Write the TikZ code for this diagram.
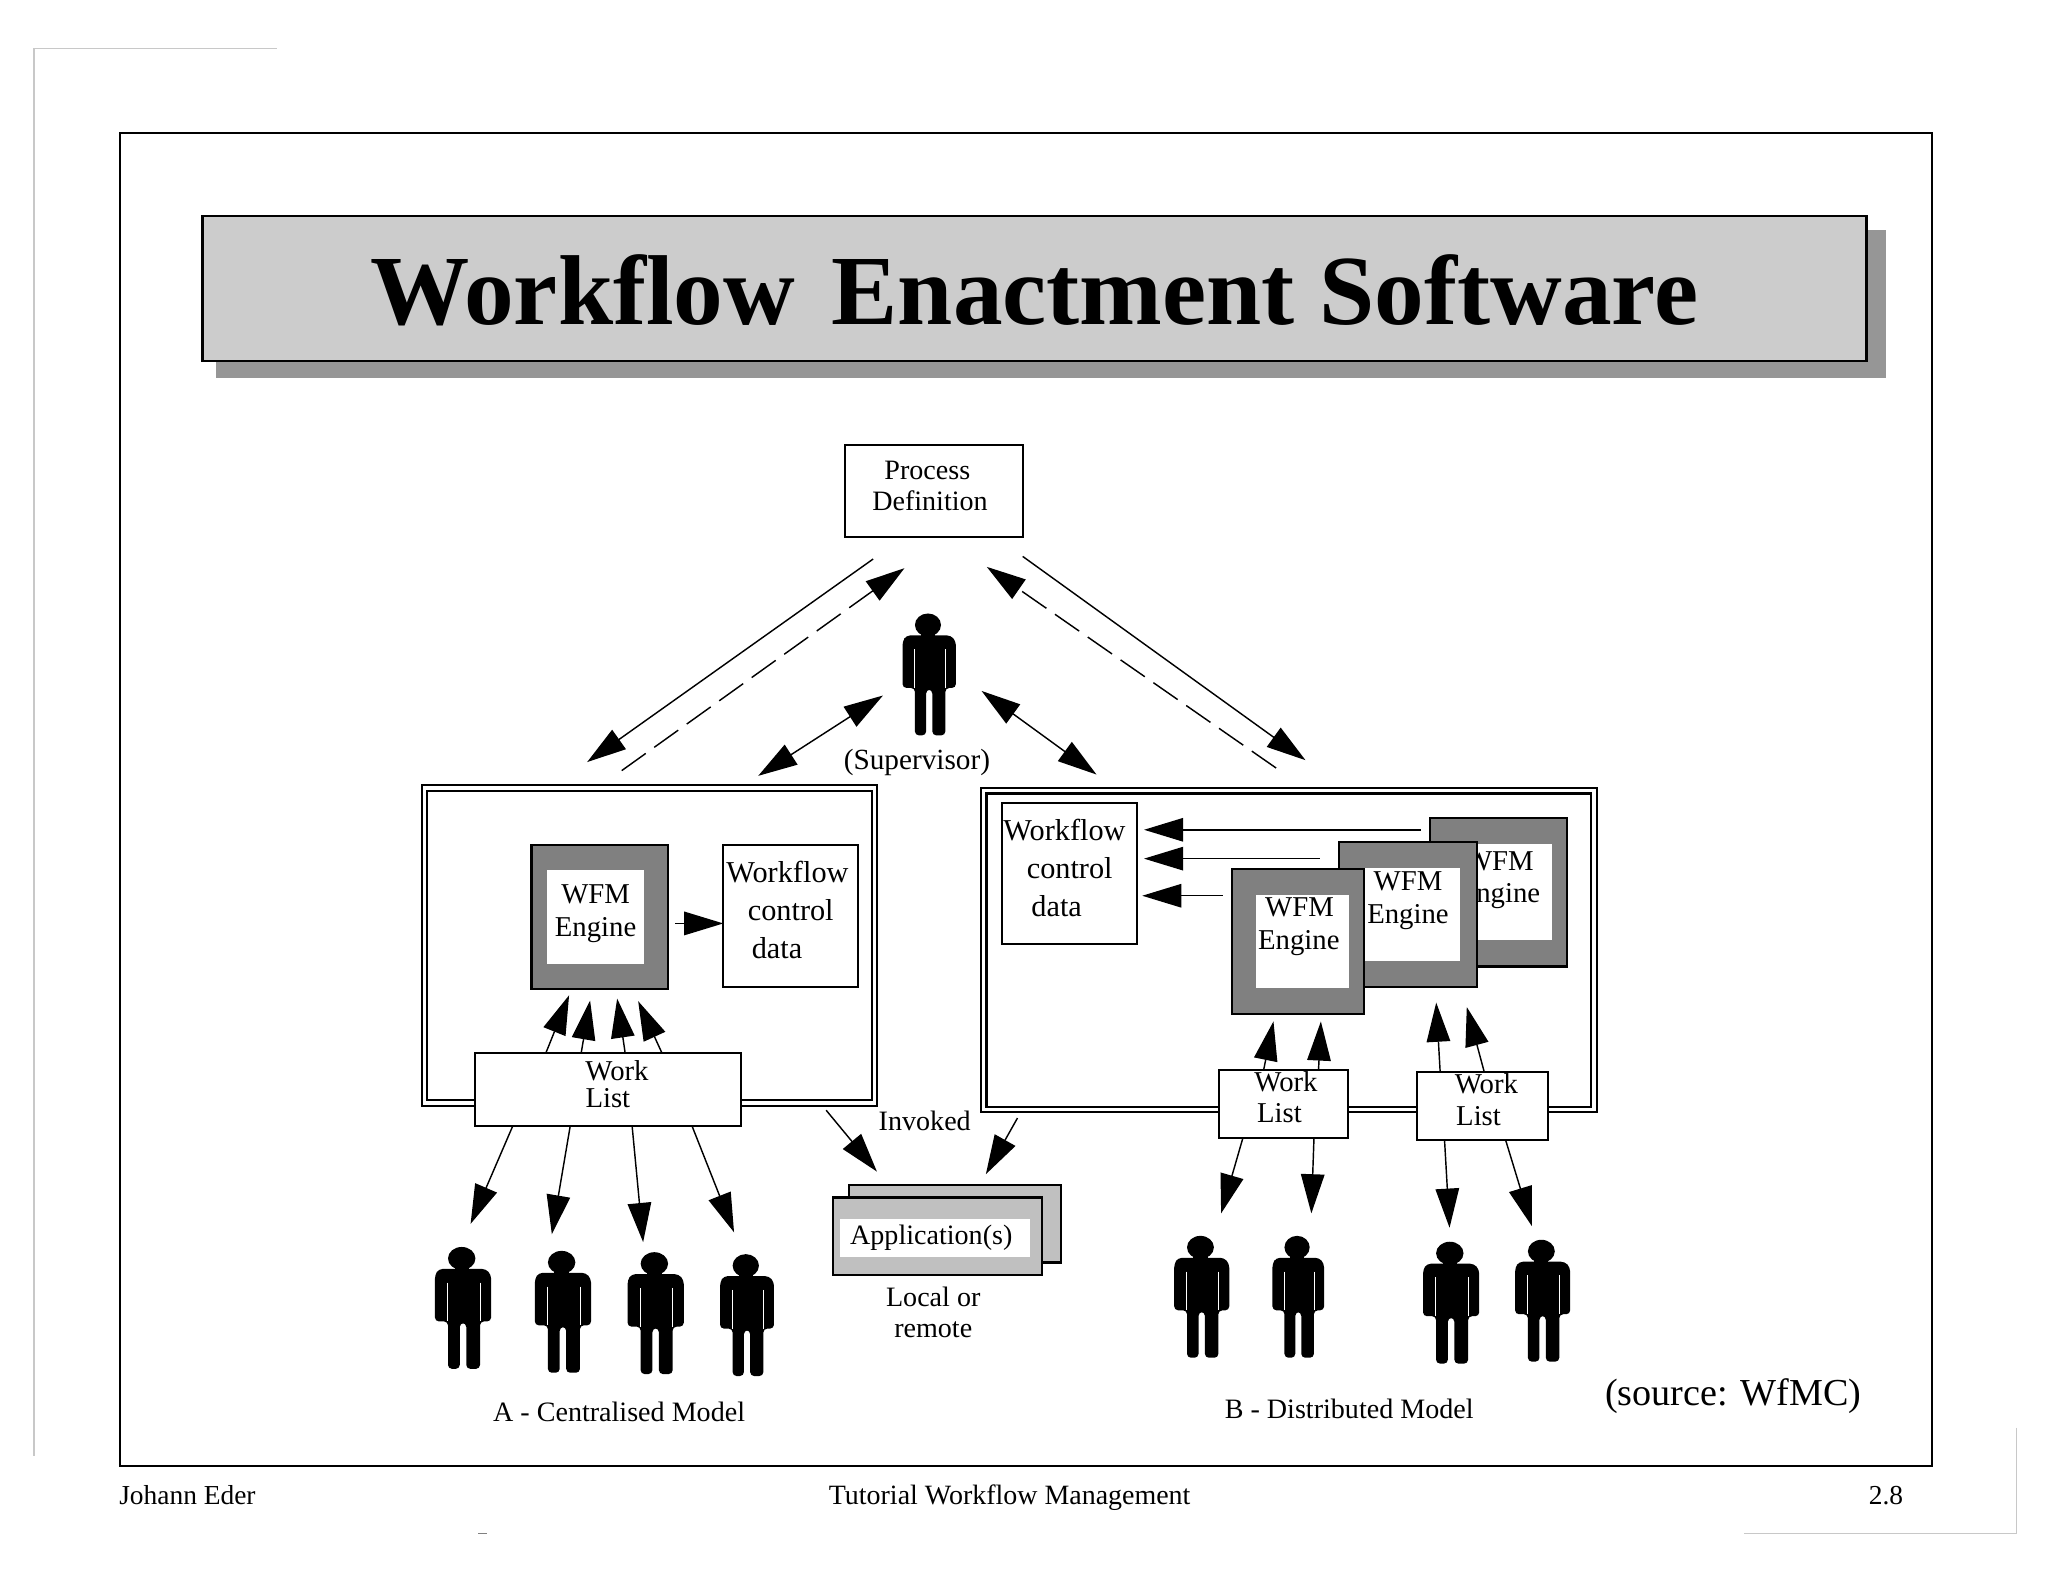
\documentclass[tikz,border=0pt]{standalone}
\usepackage{fontspec}
\setmainfont{Liberation Serif}
\usepackage{xcolor}
\usetikzlibrary{arrows.meta,positioning}

\definecolor{titlegrey}{HTML}{CCCCCC}
\definecolor{shadowgrey}{HTML}{969696}
\definecolor{enginegrey}{HTML}{808080}
\definecolor{appgrey}{HTML}{C0C0C0}
\definecolor{pagegrey}{HTML}{C8C8C8}

\tikzset{
    wh/.style 2 args={minimum width=#1*0.5pt, minimum height=#2*0.5pt, inner sep=0pt, outer sep=0pt},
    txt/.style 2 args={font=\fontsize{#1}{#2}\selectfont, align=center},
    lift/.style={text depth=#1},
    drop/.style={text height=#1},
    box/.style={rectangle, draw, fill=white, line width=0.8pt},
    outerbox/.style={rectangle, draw, line width=0.85pt, double, double distance=1.2pt},
    engine/.style={rectangle, draw, fill=enginegrey, line width=0.8pt},
    enginein/.style={rectangle, fill=white},
    appbox/.style={rectangle, draw, fill=appgrey, line width=0.9pt},
    label/.style={inner sep=0pt, outer sep=0pt},
    arrow/.style={->, >={Stealth[length=15pt,width=9pt,inset=0pt]}, line width=0.55pt},
    biarrow/.style={arrow, <->},
    dashline/.style={dash pattern=on 11.3pt off 4pt},
    person/.pic={
        \fill[black] (20.5,8.5) ellipse (10.5 and 8.8);
        \fill[black] (15,12) rectangle (26,18);
        \fill[black, rounded corners=1.5pt] (3,16.5) -- (39,16.5) -- (43,21) -- (43,56.7) -- (34.5,56.7) -- (34.5,93)
            -- (24,93) -- (24,58) -- (19,58) -- (19,93) -- (10,93) -- (10,56.7) -- (0,56.7) -- (0,21) -- cycle;
        \draw[white, line width=0.2pt] (9.5,27) -- (9.5,56.7);
        \draw[white, line width=0.2pt] (34.5,27) -- (34.5,56.7);
    }
}

\begin{document}
\begin{tikzpicture}[x=0.5pt, y=-0.5pt]
    \useasboundingbox (0,0) rectangle (1568,1211.25);

    % page edge
    \coordinate (pg1) at (212,37);
    \coordinate (pg2) at (26,37);
    \coordinate (pg3) at (26,1115);
    \coordinate (pg4) at (1544,1093);
    \coordinate (pg5) at (1544,1174);
    \coordinate (pg6) at (1335,1174);
    \coordinate (pg7) at (366,1174);
    \coordinate (pg8) at (373,1174);
    \draw[pagegrey, line width=0.6pt] (pg1) -- (pg2) -- (pg3);
    \draw[pagegrey, line width=0.6pt] (pg4) -- (pg5) -- (pg6);
    \draw[gray, line width=0.6pt] (pg7) -- (pg8);

    % slide and title
    \node[rectangle, draw, line width=0.9pt, wh={1387}{1020.5}] (frame) at (785.5,612.25) {};
    \node[rectangle, fill=shadowgrey, wh={1279}{113.7}] (shadow) at (804.5,232.85) {};
    \node[rectangle, draw, fill=titlegrey, line width=0.9pt, wh={1274}{111}, drop=28pt, font=\fontsize{38}{40}\selectfont\bfseries] (title) at (792,220.9) {Workflow\hspace{4.5pt} Enactment Software};

    % process definition and supervisor
    \node[box, wh={136}{70}, txt={10.75}{12}, lift=4pt] (procdef) at (715,376) {Process\hspace*{5pt}\\Definition\hspace*{3pt}};
    \pic[xscale=0.95] (supervisor) at (691,470) {person};
    \node[label, txt={11.2}{12}] (suptext) at (702,584) {(Supervisor)};

    % A - centralised
    \node[outerbox, wh={344.5}{241.2}] (modela) at (497.25,723.9) {};
    \node[engine, wh={104.5}{110.6}] (enginea) at (459.2,702.1) {};
    \node[enginein, wh={74}{72}, txt={11}{12.5}, lift=5pt] (engineatext) at (456,702) {WFM\\Engine};
    \node[box, wh={103.2}{109.2}, txt={11.6}{14.5}, lift=5pt] (ctrla) at (605.4,701.4) {Workflow\hspace*{2.5pt}\\control\hspace*{4.5pt}\\data\hspace*{10.5pt}};
    \node[box, wh={203.3}{56}, txt={11}{10.5}, lift=4pt] (lista) at (465.4,834) {\hspace*{7pt}Work\\List};

    % B - distributed
    \node[outerbox, wh={467.2}{244}] (modelb) at (986.8,727.5) {};
    \node[box, wh={103.6}{107.7}, txt={11.6}{14.5}, lift=4pt] (ctrlb) at (819,668.7) {Workflow\hspace*{4pt}\\control\hspace*{4pt}\\data\hspace*{10pt}};
    \node[engine, wh={105.3}{113.8}] (enginer) at (1147.4,683.1) {};
    \node[enginein, wh={80}{74}, txt={11}{12.5}, drop=10.6pt] (enginertext) at (1148,683) {WFM\\Engine};
    \node[engine, wh={105.2}{111.1}] (enginem) at (1077.9,700.25) {};
    \node[enginein, wh={80}{71}, txt={11}{12.5}, drop=9.1pt] (enginemtext) at (1078,700.3) {WFM\\Engine};
    \node[engine, wh={101.4}{111.1}] (enginef) at (993.7,720.85) {};
    \node[enginein, wh={71.2}{71.1}, txt={11}{12.5}, drop=8.1pt] (engineftext) at (996.9,720.85) {WFM\hspace*{2pt}\\Engine\hspace*{2.5pt}};
    \node[box, wh={98.4}{52}, txt={11}{12}, lift=5pt] (listb) at (982.6,845) {\hspace*{2pt}Work\\List\hspace*{3pt}};
    \node[box, wh={100}{52.4}, txt={11}{12}, lift=5pt] (listc) at (1135,846.7) {\hspace*{3pt}Work\\List\hspace*{3pt}};

    % applications
    \node[appbox, wh={162.2}{59.1}] (appback) at (731.1,937) {};
    \node[appbox, wh={160}{59.5}] (appfront) at (717.9,946.5) {};
    \node[enginein, wh={145.4}{28.7}, txt={10.75}{12}] (apptext) at (716,948) {Application(s)\hspace*{3pt}};
    \node[label, txt={10.75}{12}] (invoked) at (708,858) {Invoked};
    \node[label, txt={10.75}{12}] (localtext) at (714.5,1005) {Local or\\remote};

    % users
    \pic (usera1) at (333,955) {person};
    \pic (usera2) at (409.5,958) {person};
    \pic (usera3) at (480.5,959) {person};
    \pic[xscale=0.96] (usera4) at (551.3,960.5) {person};
    \pic[xscale=0.98] (userb1) at (899,946.5) {person};
    \pic[xscale=0.92] (userb2) at (974.2,946.5) {person};
    \pic (userb3) at (1089.5,951) {person};
    \pic[xscale=0.98] (userb4) at (1160,949.5) {person};

    % captions
    \node[label, txt={10.75}{12}] (capa) at (474,1081) {A - Centralised Model};
    \node[label, txt={10.75}{12}] (capb) at (1033,1079) {B - Distributed Model};
    \node[label, txt={14.6}{16}] (source) at (1327,1069) {(source: WfMC)};
    \node[label, txt={10.5}{12}] (footl) at (143.5,1145) {Johann Eder};
    \node[label, txt={10.7}{12}] (footm) at (773,1147) {Tutorial Workflow Management};
    \node[label, txt={10.5}{12}] (footr) at (1444,1145) {2.8};

    % arrows to and from the process definition
    \coordinate (pl1) at (668.5,428); \coordinate (pl2) at (449.5,583.5);
    \coordinate (pd1) at (476,590); \coordinate (pd2) at (692.5,435);
    \coordinate (qd1) at (977,588); \coordinate (qd2) at (755.5,434);
    \coordinate (ql1) at (783,426); \coordinate (ql2) at (999.5,582);
    \draw[arrow] (pl1) -- (pl2);
    \draw[arrow, dashline] (pd1) -- (pd2);
    \draw[arrow, dashline] (qd1) -- (qd2);
    \draw[arrow] (ql1) -- (ql2);

    % supervisor arrows
    \coordinate (sa1) at (580.5,594); \coordinate (sa2) at (676,532.5);
    \coordinate (sb1) at (751.5,529); \coordinate (sb2) at (839.5,593);
    \draw[biarrow] (sa1) -- (sa2);
    \draw[biarrow] (sb1) -- (sb2);

    % model A
    \coordinate (ea1) at (517,707); \coordinate (ea2) at (553.8,707);
    \draw[arrow] (ea1) -- (ea2);
    \coordinate (ua1) at (418,806); \coordinate (ua2) at (435.7,762);
    \coordinate (ub1) at (445,806); \coordinate (ub2) at (451.8,766);
    \coordinate (uc1) at (478.6,806); \coordinate (uc2) at (472.5,764.5);
    \coordinate (ud1) at (506.7,806); \coordinate (ud2) at (488.6,766.5);
    \draw[arrow] (ua1) -- (ua2);
    \draw[arrow] (ub1) -- (ub2);
    \draw[arrow] (uc1) -- (uc2);
    \draw[arrow] (ud1) -- (ud2);
    \coordinate (da1) at (392.4,862.5); \coordinate (da2) at (360.3,937);
    \coordinate (db1) at (436.5,862.5); \coordinate (db2) at (422.5,945);
    \coordinate (dc1) at (484,862.5); \coordinate (dc2) at (492.4,951);
    \coordinate (dd1) at (530,862.5); \coordinate (dd2) at (562,943.5);
    \draw[arrow] (da1) -- (da2);
    \draw[arrow] (db1) -- (db2);
    \draw[arrow] (dc1) -- (dc2);
    \draw[arrow] (dd1) -- (dd2);

    % invoked
    \coordinate (ia1) at (632.5,850); \coordinate (ia2) at (671.4,897);
    \coordinate (ib1) at (779,856); \coordinate (ib2) at (754.8,899);
    \draw[arrow] (ia1) -- (ia2);
    \draw[arrow] (ib1) -- (ib2);

    % model B
    \coordinate (ca1) at (1087.8,635.3); \coordinate (ca2) at (875.9,635.3);
    \coordinate (cb1) at (1010.3,657.4); \coordinate (cb2) at (875.9,657.4);
    \coordinate (cc1) at (936,685.8); \coordinate (cc2) at (874.5,685.8);
    \draw[arrow] (ca1) -- (ca2);
    \draw[arrow] (cb1) -- (cb2);
    \draw[arrow] (cc1) -- (cc2);
    \coordinate (va1) at (967.5,819); \coordinate (va2) at (975,782);
    \coordinate (vb1) at (1009.5,819); \coordinate (vb2) at (1011.3,782);
    \coordinate (vc1) at (1102.6,820.5); \coordinate (vc2) at (1099.6,767.6);
    \coordinate (vd1) at (1136.3,820.5); \coordinate (vd2) at (1123,771);
    \draw[arrow] (va1) -- (va2);
    \draw[arrow] (vb1) -- (vb2);
    \draw[arrow] (vc1) -- (vc2);
    \draw[arrow] (vd1) -- (vd2);
    \coordinate (wa1) at (951.5,871.5); \coordinate (wa2) at (934.9,929);
    \coordinate (wb1) at (1006,871.5); \coordinate (wb2) at (1004,929);
    \coordinate (wc1) at (1106,873.4); \coordinate (wc2) at (1109.8,940);
    \coordinate (wd1) at (1152.9,873.4); \coordinate (wd2) at (1172.8,938.7);
    \draw[arrow] (wa1) -- (wa2);
    \draw[arrow] (wb1) -- (wb2);
    \draw[arrow] (wc1) -- (wc2);
    \draw[arrow] (wd1) -- (wd2);
\end{tikzpicture}
\end{document}
